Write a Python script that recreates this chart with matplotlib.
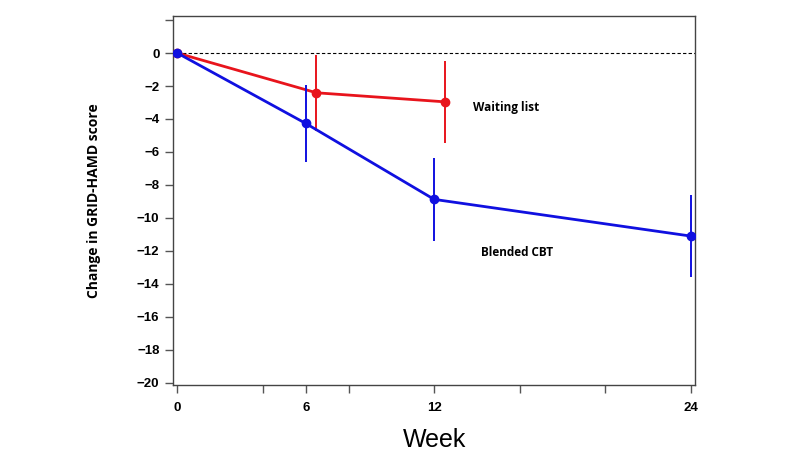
import numpy as np
import matplotlib
matplotlib.use("Agg")
import matplotlib.pyplot as plt

# data
cbt_week = [0, 6, 12, 24]
cbt_change = [0.0, -4.27, -8.88, -11.11]
cbt_err = [0.0, 2.36, 2.5, 2.5]

wl_week = [0, 6.5, 12.5]
wl_change = [0.0, -2.41, -2.96]
wl_err = [0.0, 2.3, 2.5]

x_ticks = [0, 6, 12, 24]
x_minor = [4, 8, 16, 20]
y_ticks = list(range(-20, 3, 2))

fig = plt.figure(figsize=(8, 4.55), dpi=100)
ax = fig.add_axes([0.2166, 0.1538, 0.6524, 0.811])

ax.axhline(0, xmin=0.008, color="black", lw=0.8, ls=(0, (3, 2)), zorder=1)

ax.errorbar(wl_week, wl_change, yerr=wl_err, color="#e8141c", lw=2.0,
            elinewidth=1.4, marker="o", ms=6, capsize=0, zorder=3)
ax.errorbar(cbt_week, cbt_change, yerr=cbt_err, color="#1010e0", lw=2.0,
            elinewidth=1.4, marker="o", ms=6, capsize=0, zorder=4)

ax.text(13.8, -3.28, "Waiting list", fontsize=8.5, fontweight="bold",
        family="Open Sans", va="center", ha="left")
ax.text(14.2, -12.1, "Blended CBT", fontsize=8.5, fontweight="bold",
        family="Open Sans", va="center", ha="left")

ax.set_xlim(-0.19, 24.2)
ax.set_ylim(-20.15, 2.25)

ax.set_xticks(x_ticks)
ax.set_xticks(x_minor, minor=True)
ax.set_xticklabels([str(v) for v in x_ticks], fontsize=9.5, fontweight="bold",
                   family="Liberation Sans")
ax.set_yticks(y_ticks)
ax.set_yticklabels(["\u2212" + str(abs(v)) if v < 0 else ("" if v == 2 else str(v))
                    for v in y_ticks], fontsize=9.5, fontweight="bold",
                   family="Liberation Sans")
ax.tick_params(axis="both", which="both", direction="out", length=6,
               width=1, color="#555555", pad=4)
ax.tick_params(axis="x", which="major", pad=6)

for s in ax.spines.values():
    s.set_color("#444444")
    s.set_linewidth(1.0)

ax.set_ylabel("Change in GRID-HAMD score", fontsize=10, fontweight="bold",
              family="Open Sans", labelpad=26)
ax.set_xlabel("Week", fontsize=18, family="Liberation Sans", labelpad=10)

fig.savefig("out.png", dpi=100)
